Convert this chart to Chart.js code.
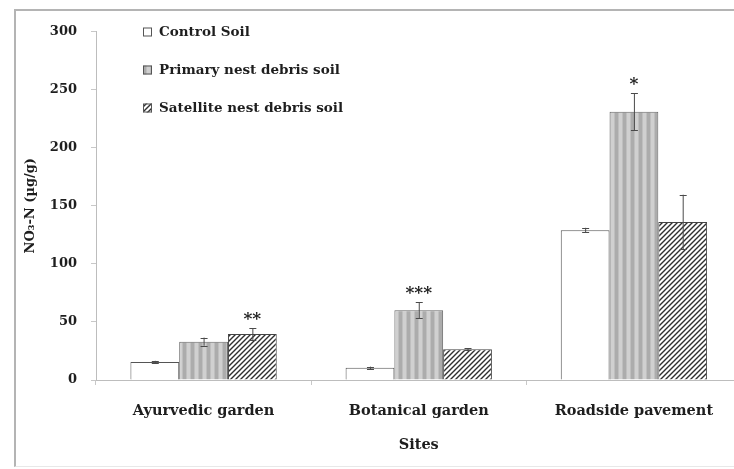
<!DOCTYPE html>
<html>
<head>
<meta charset="utf-8">
<script src="https://cdn.jsdelivr.net/npm/chart.js@4.4.1/dist/chart.umd.min.js"></script>
<style>
  html, body { margin: 0; padding: 0; background: #fff; overflow: hidden; width: 734px; height: 469px; }
  #frame { position: absolute; left: 14px; top: 9px; width: 760px; height: 455px;
           border-top: 2px solid #b4b4b4; border-left: 2px solid #b4b4b4; border-bottom: 1px solid #e8e8e8; }
  #wrap { position: absolute; left: 0; top: 0; width: 750px; height: 469px; }
</style>
</head>
<body>
<div id="frame"></div>
<div id="wrap"><canvas id="c" width="750" height="469"></canvas></div>
<script>
// Nitrate nitrogen in soils from three sites
const sites = ['Ayurvedic garden', 'Botanical garden', 'Roadside pavement'];
const seriesNames = ['Control Soil', 'Primary nest debris soil', 'Satellite nest debris soil'];

const controlSoil   = [15.5, 10.5, 129];
const controlErr    = [1, 1, 2];
const primaryNest   = [33, 60, 231];
const primaryErr    = [3.5, 7, 16];
const satelliteNest = [39.5, 26.5, 136];
const satelliteErr  = [5, 1, 23.5];

// significance marks placed above the error bars
const controlSig   = ['', '', ''];
const primarySig   = ['', '***', '*'];
const satelliteSig = ['**', '', ''];

const yTicks = [0, 50, 100, 150, 200, 250, 300];

const SERIF = '"DejaVu Serif", "Liberation Serif", serif';
const INK = '#1e1e1e';

function stripePattern() {
  const c = document.createElement('canvas');
  c.width = 8; c.height = 8;
  const g = c.getContext('2d');
  g.fillStyle = '#acacac'; g.fillRect(0, 0, 8, 8);
  g.fillStyle = '#bfbfbf'; g.fillRect(2, 0, 1, 8); g.fillRect(6, 0, 1, 8);
  g.fillStyle = '#d0d0d0'; g.fillRect(3, 0, 3, 8);
  return g.createPattern(c, 'repeat');
}
function hatchPattern() {
  const s = 5;
  const c = document.createElement('canvas');
  c.width = s; c.height = s;
  const g = c.getContext('2d');
  g.fillStyle = '#ffffff'; g.fillRect(0, 0, s, s);
  g.strokeStyle = '#2f2f2f'; g.lineWidth = 1.4;
  g.beginPath();
  g.moveTo(-1, s + 1); g.lineTo(s + 1, -1);
  g.moveTo(-1, 1); g.lineTo(1, -1);
  g.moveTo(s - 1, s + 1); g.lineTo(s + 1, s - 1);
  g.stroke();
  return g.createPattern(c, 'repeat');
}

const errors = [controlErr, primaryErr, satelliteErr];
const marks = [controlSig, primarySig, satelliteSig];

const extras = {
  id: 'extras',
  afterDatasetsDraw(chart) {
    const ctx = chart.ctx;
    const y = chart.scales.y;
    ctx.save();
    chart.data.datasets.forEach((ds, di) => {
      const meta = chart.getDatasetMeta(di);
      meta.data.forEach((bar, i) => {
        const v = ds.data[i], e = errors[di][i];
        const x = bar.x;
        const yt = y.getPixelForValue(v + e);
        const yb = y.getPixelForValue(v - e);
        ctx.strokeStyle = '#4a4a4a';
        ctx.lineWidth = 1;
        ctx.beginPath();
        ctx.moveTo(x + 0.5, yt); ctx.lineTo(x + 0.5, yb);
        ctx.moveTo(x - 3, Math.round(yt) + 0.5); ctx.lineTo(x + 4, Math.round(yt) + 0.5);
        ctx.moveTo(x - 3, Math.round(yb) + 0.5); ctx.lineTo(x + 4, Math.round(yb) + 0.5);
        ctx.stroke();
        const m = marks[di][i];
        if (m) {
          ctx.fillStyle = INK;
          ctx.font = 'bold 17px ' + SERIF;
          ctx.textAlign = 'center';
          ctx.textBaseline = 'alphabetic';
          ctx.fillText(m, x, yt - 14 + 10);
        }
      });
    });
    // legend in the upper left of the plot
    const rows = [32, 70, 108];
    chart.data.datasets.forEach((ds, di) => {
      const ry = rows[di];
      ctx.fillStyle = ds.backgroundColor;
      ctx.fillRect(143, ry - 4.5, 9, 9);
      ctx.strokeStyle = '#555';
      ctx.lineWidth = 1;
      ctx.strokeRect(143.5, ry - 4, 8, 8);
      ctx.fillStyle = INK;
      ctx.font = 'bold 13.5px ' + SERIF;
      ctx.textAlign = 'left';
      ctx.textBaseline = 'middle';
      ctx.fillText(ds.label, 159, ry);
    });
    ctx.restore();
  }
};

new Chart(document.getElementById('c'), {
  type: 'bar',
  data: {
    labels: sites,
    datasets: [
      { label: seriesNames[0], data: controlSoil, backgroundColor: '#ffffff', borderColor: '#555', borderWidth: 1 },
      { label: seriesNames[1], data: primaryNest, backgroundColor: stripePattern(), borderColor: '#666', borderWidth: 1 },
      { label: seriesNames[2], data: satelliteNest, backgroundColor: hatchPattern(), borderColor: '#444', borderWidth: 1 }
    ]
  },
  options: {
    responsive: false,
    animation: false,
    devicePixelRatio: 1,
    layout: { padding: { top: 31.5, right: 8.5, left: 0, bottom: 0 } },
    datasets: { bar: { categoryPercentage: 0.68, barPercentage: 1.0 } },
    plugins: { legend: { display: false }, tooltip: { enabled: false } },
    scales: {
      x: {
        afterFit(s) { s.height = 89; },
        grid: { drawOnChartArea: false, drawTicks: true, tickLength: 5, color: '#c8c8c8' },
        border: { display: true, color: '#bdbdbd', width: 1 },
        ticks: { color: INK, font: { family: SERIF, size: 14.5, weight: 'bold' }, padding: 18, maxRotation: 0 },
        title: { display: true, text: 'Sites', color: INK, font: { family: SERIF, size: 14.5, weight: 'bold' }, padding: { top: 0, bottom: 15 } }
      },
      y: {
        min: 0, max: 300,
        afterFit(s) { s.width = 96; },
        afterBuildTicks(s) { s.ticks = yTicks.map(v => ({ value: v })); },
        grid: { drawOnChartArea: false, drawTicks: true, tickLength: 5, color: '#c8c8c8' },
        border: { display: true, color: '#bdbdbd', width: 1 },
        ticks: { color: INK, font: { family: SERIF, size: 13, weight: 'bold' }, padding: 14 },
        title: { display: true, text: 'NO\u2083-N (\u00b5g/g)', color: INK, font: { family: SERIF, size: 13, weight: 'bold' }, padding: { top: 23, bottom: 0 } }
      }
    }
  },
  plugins: [extras]
});
</script>
</body>
</html>
